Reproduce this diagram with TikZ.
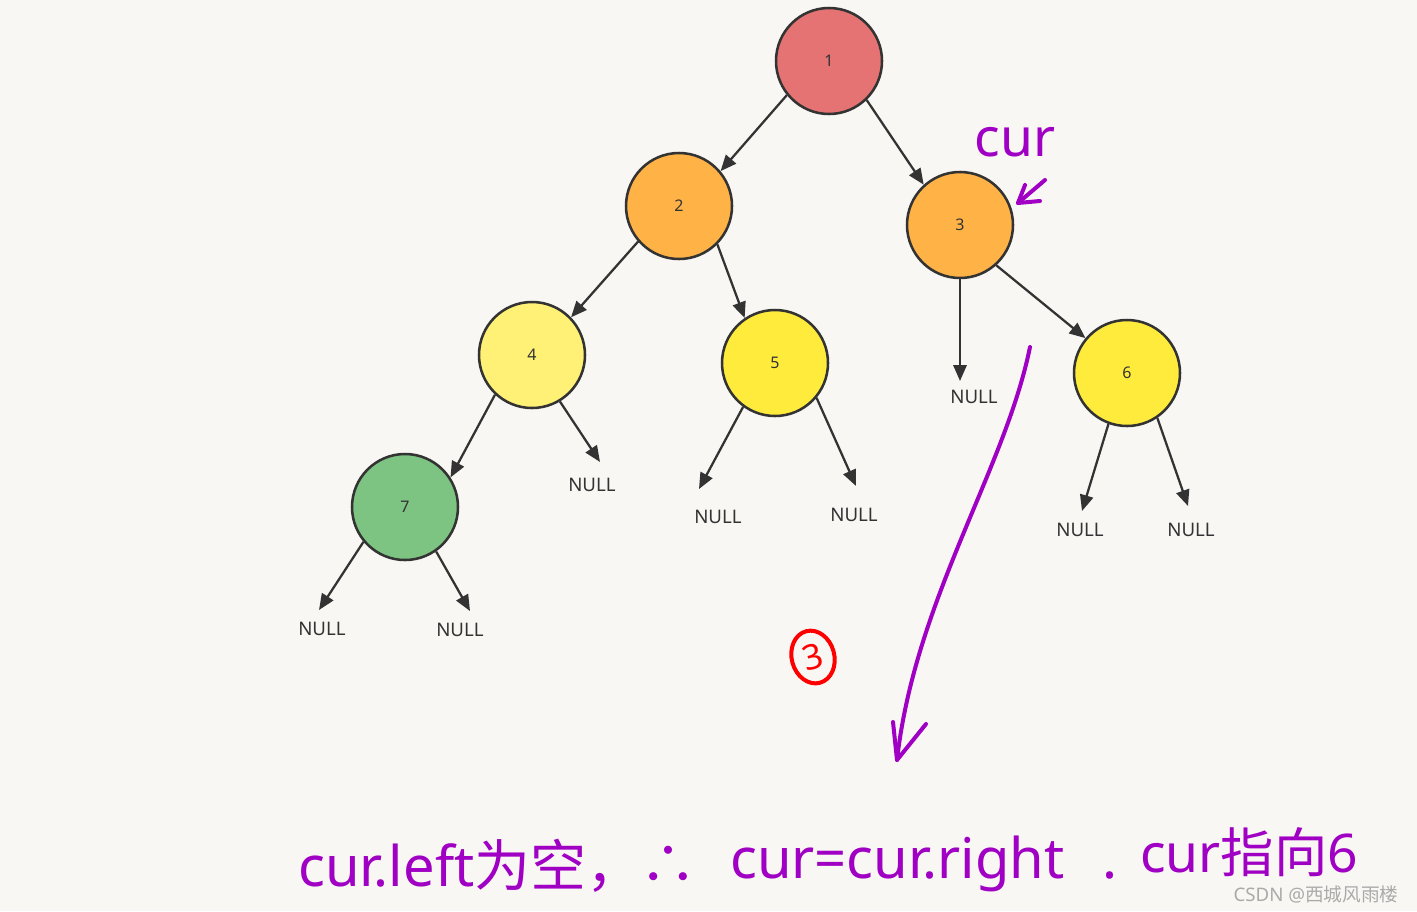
\documentclass[tikz,border=0pt]{standalone}
\usepackage{fontspec}
\setmainfont{Noto Sans}
\newfontfamily\cjk{Noto Sans CJK SC}
\usetikzlibrary{arrows.meta,shapes.geometric}
\definecolor{bgc}{RGB}{249,247,243}
\definecolor{edgec}{RGB}{51,51,51}
\definecolor{cred}{RGB}{229,115,115}
\definecolor{corange}{RGB}{255,179,71}
\definecolor{clyellow}{RGB}{255,241,118}
\definecolor{cyellow}{RGB}{255,235,59}
\definecolor{cgreen}{RGB}{125,196,131}
\definecolor{hand}{RGB}{160,0,195}
\definecolor{wm}{RGB}{170,170,170}
\tikzset{
  tnode/.style={circle, draw=edgec, line width=1.9pt, minimum size=79.5pt, inner sep=0pt, font=\fontsize{12}{12}\selectfont, text=edgec},
  nulllab/.style={font=\fontsize{14}{14}\selectfont, text=edgec, inner sep=0pt},
  treeedge/.style={draw=edgec, line width=1.7pt, -{Triangle[length=12pt,width=10pt]}},
  handtxt/.style={text=hand, inner sep=0pt, anchor=base west, font=\fontsize{42}{42}\selectfont},
  handline/.style={draw=hand, line width=3pt, line cap=round, line join=round},
}
\begin{document}
\begin{tikzpicture}[x=0.75pt,y=-0.75pt]
\fill[bgc] (0,0) rectangle (1417,911);
\useasboundingbox (0,0) rectangle (1417,911);

% nodes
\node[tnode, fill=cred] (n1) at (829,61) {1};
\node[tnode, fill=corange] (n2) at (679,206) {2};
\node[tnode, fill=corange] (n3) at (960,225) {3};
\node[tnode, fill=clyellow] (n4) at (532,355) {4};
\node[tnode, fill=cyellow] (n5) at (775,363) {5};
\node[tnode, fill=cyellow] (n6) at (1127,373) {6};
\node[tnode, fill=cgreen] (n7) at (405,507) {7};

% NULL labels
\node[nulllab] (l3) at (974,397) {NULL};
\node[nulllab] (l4) at (592,485) {NULL};
\node[nulllab] (l5a) at (718,517) {NULL};
\node[nulllab] (l5b) at (854,515) {NULL};
\node[nulllab] (l6a) at (1080,530) {NULL};
\node[nulllab] (l6b) at (1191,530) {NULL};
\node[nulllab] (l7a) at (322,629) {NULL};
\node[nulllab] (l7b) at (460,630) {NULL};

% arrow end coordinates
\coordinate (e3) at (960,381);
\coordinate (e4) at (600,462);
\coordinate (e5a) at (699,489);
\coordinate (e5b) at (856,486);
\coordinate (e6a) at (1082,511);
\coordinate (e6b) at (1188,506);
\coordinate (e7a) at (319,610);
\coordinate (e7b) at (470,611);

% edges
\draw[treeedge] (n1.-141) -- (n2.40);
\draw[treeedge] (n1.-46) -- (n3.132);
\draw[treeedge] (n2.-139) -- (n4.44);
\draw[treeedge] (n2.-45) -- (n5.124);
\draw[treeedge] (n3.-48) -- (n6.140);
\draw[treeedge] (n4.-133) -- (n7.33);
\draw[treeedge] (n3.south) -- (e3);
\draw[treeedge] (n4.-59) -- (e4);
\draw[treeedge] (n5.-126) -- (e5a);
\draw[treeedge] (n5.-40) -- (e5b);
\draw[treeedge] (n6.-110) -- (e6a);
\draw[treeedge] (n6.-56) -- (e6b);
\draw[treeedge] (n7.-140) -- (e7a);
\draw[treeedge] (n7.-55) -- (e7b);

% "cur" annotation
\node[text=hand, inner sep=0pt, font=\fontsize{40}{40}\selectfont] (curlab) at (1015,142) {cur};
\coordinate (ca1) at (1045,180);
\coordinate (ca2) at (1018,203);
\coordinate (ca3) at (1025,185);
\coordinate (ca4) at (1040,201);
\draw[handline] (ca1) -- (ca2);
\draw[handline] (ca3) -- (ca2) -- (ca4);

% long purple arrow
\coordinate (p1) at (1030,347);
\coordinate (p2) at (897,760);
\coordinate (p3) at (893,722);
\coordinate (p4) at (926,724);
\draw[handline] (p1) .. controls (1005,470) and (915,600) .. (p2);
\draw[handline] (p3) -- (p2) -- (p4);

% red circled 3
\node[draw=red, line width=3pt, ellipse, minimum width=32pt, minimum height=40pt, inner sep=0pt, text=red, font=\fontsize{26}{26}\selectfont\bfseries, rotate=15] (three) at (813,657) {3};

% bottom handwritten text
\node[handtxt] (t1) at (298,886) {cur.left{\cjk 为空，}};
\node[handtxt] (t2) at (640,884) {{\cjk ∴}};
\node[handtxt] (t3) at (730,878) {cur=cur.right};
\node[handtxt] (t4) at (1102,878) {.};
\node[handtxt, font=\fontsize{40}{40}\selectfont] (t5) at (1140,872) {cur{\cjk 指向}6};

% watermark
\node[text=wm, inner sep=0pt, font=\fontsize{14}{14}\selectfont] (wmk) at (1316,894) {CSDN @{\cjk 西城风雨楼}};
\end{tikzpicture}
\end{document}
